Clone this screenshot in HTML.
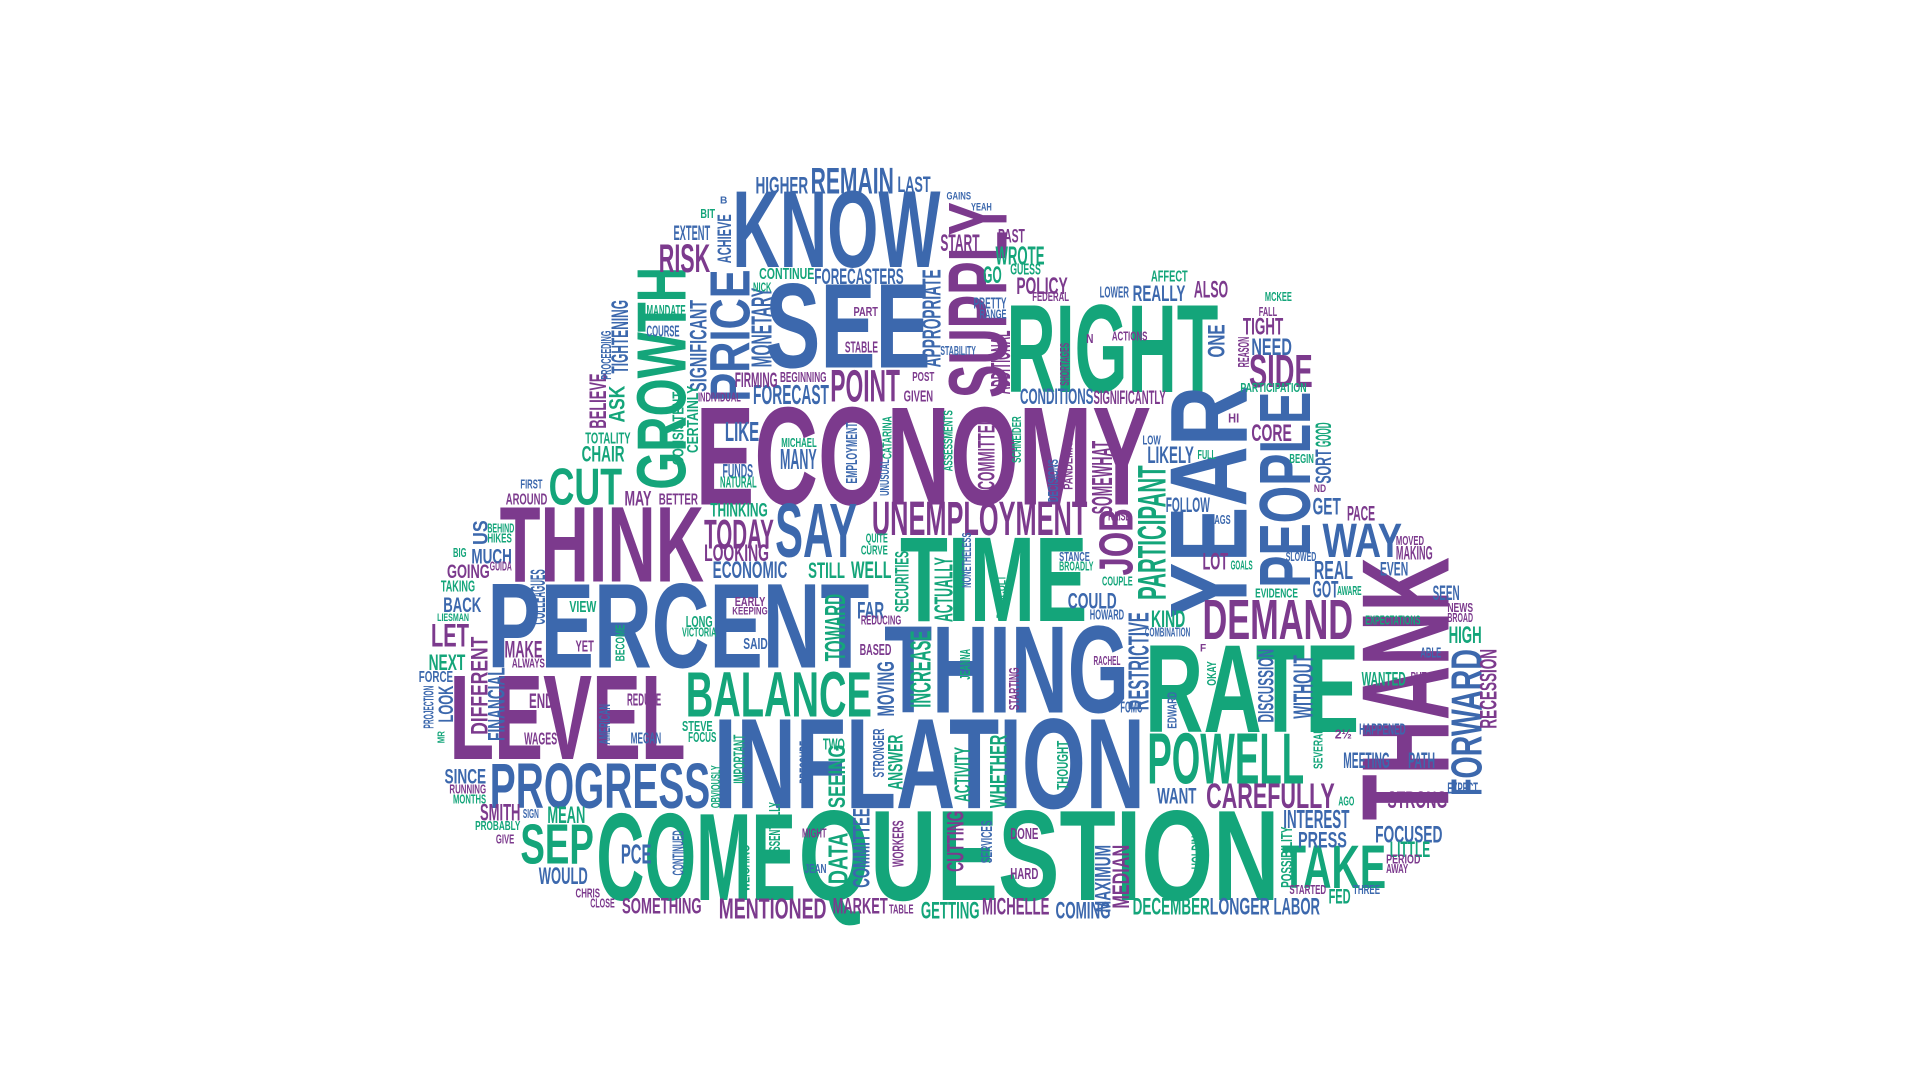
<!DOCTYPE html>
<html><head><meta charset="utf-8"><title>Word Cloud</title>
<style>
html,body{margin:0;padding:0;background:#fff;width:1920px;height:1080px;overflow:hidden}
svg{display:block}
text{font-family:"Liberation Sans Narrow","Liberation Sans",sans-serif;font-weight:bold}
</style></head>
<body>
<svg id="cloud" width="1920" height="1080" viewBox="0 0 1568 882" xmlns="http://www.w3.org/2000/svg"></svg>
<script>
// word, colour key, x1, y1, x2, y2, orientation (h = horizontal, v = vertical bottom-to-top)
const words = [
["ECONOMY","p",568,325,940,412,"h"],["INFLATION","b",583,580,935,660,"h"],["QUESTION","g",652,655,1045,735,"h"],
["COME","g",487,658,650,735,"h"],["PERCENT","b",398,470,710,545,"h"],["THING","b",722,505,922,582,"h"],
["TIME","g",735,432,888,507,"h"],["RATE","g",935,520,1110,598,"h"],["RIGHT","g",822,242,995,320,"h"],
["SEE","b",625,225,760,300,"h"],["KNOW","b",598,150,768,218,"h"],["LEVEL","p",367,545,560,620,"h"],
["THINK","p",408,408,575,475,"h"],["YEAR","b",950,315,1018,505,"v"],["THANK","p",1106,455,1183,670,"v"],
["GROWTH","g",517,218,560,400,"v"],["SUPPLY","p",770,165,822,325,"v"],["PEOPLE","b",1025,320,1070,480,"v"],
["PRICE","b",577,220,612,328,"v"],["POWELL","g",937,595,1065,640,"h"],["PROGRESS","b",400,620,580,660,"h"],
["BALANCE","g",560,545,712,585,"h"],["DEMAND","p",982,487,1105,522,"h"],["UNEMPLOYMENT","p",712,407,888,437,"h"],
["SAY","b",633,407,700,455,"h"],["CUT","g",448,380,508,412,"h"],["SEP","g",425,670,485,705,"h"],
["TAKE","g",1047,687,1132,725,"h"],["WAY","b",1080,425,1145,455,"h"],["POINT","p",678,300,735,328,"h"],
["REMAIN","b",662,135,730,158,"h"],["CAREFULLY","p",985,638,1090,660,"h"],["FORWARD","b",1183,530,1210,650,"v"],
["JOB","p",895,415,925,470,"v"],["PARTICIPANT","g",927,380,952,490,"v"],["RESTRICTIVE","b",920,500,938,580,"v"],
["TOWARD","g",672,485,690,540,"v"],["INCREASE","g",742,515,760,578,"v"],["ACTUALLY","g",762,455,778,508,"v"],
["APPROPRIATE","b",752,220,768,300,"v"],["MONETARY","b",612,235,630,300,"v"],["ADDITIONAL","p",808,270,825,322,"v"],
["SOMEWHAT","p",890,360,908,420,"v"],["DIFFERENT","p",383,520,398,600,"v"],["FINANCIAL","b",397,545,412,605,"v"],
["TIGHTENING","b",498,245,513,305,"v"],["SIGNIFICANT","b",562,245,577,320,"v"],["ASK","g",496,315,510,345,"v"],
["BELIEVE","p",480,305,495,350,"v"],["COLLEAGUES","b",432,465,445,510,"v"],["DISCUSSION","b",1026,530,1040,590,"v"],
["WITHOUT","b",1055,535,1072,587,"v"],["RECESSION","p",1207,530,1222,595,"v"],["WHETHER","g",807,600,822,660,"v"],
["ACTIVITY","g",778,610,792,655,"v"],["ANSWER","g",724,600,737,645,"v"],["MOVING","b",715,540,730,585,"v"],
["SEEING","g",675,608,690,660,"v"],["DATA","g",675,680,692,722,"v"],["COMMITTEE","b",695,660,710,725,"v"],
["MAXIMUM","b",893,690,907,745,"v"],["MEDIAN","p",907,690,922,742,"v"],["CUTTING","p",772,662,787,712,"v"],
["COMMITTED","p",797,340,812,400,"v"],["SECURITIES","g",730,450,742,500,"v"],["CONSISTENT","g",548,320,558,380,"v"],
["CERTAINLY","g",560,315,570,370,"v"],["EMPLOYMENT","b",690,345,700,395,"v"],["SCHNEIDER","g",826,340,834,378,"v"],
["PANDEMIC","p",868,360,876,400,"v"],["DECISIONS","b",855,375,864,410,"v"],["DIFFICULT","g",813,470,821,505,"v"],
["PROCEEDING","b",490,270,499,310,"v"],["OKAY","g",985,540,993,560,"v"],["THOUGHT","g",862,605,872,645,"v"],
["CONTINUED","b",548,678,558,715,"v"],["ESSENTIALLY","g",627,655,637,700,"v"],["IMPORTANT","g",598,600,608,640,"v"],
["HOLDINGS","g",972,672,982,710,"v"],["POSSIBILITY","g",1045,675,1055,725,"v"],["SEVERAL","g",1072,595,1080,628,"v"],
["TODAY","p",575,422,632,448,"h"],["LOOKING","p",575,443,628,458,"h"],["ECONOMIC","b",582,457,643,472,"h"],
["STILL","g",660,458,690,472,"h"],["WELL","g",695,457,728,472,"h"],["LIKE","b",592,343,620,360,"h"],
["MANY","b",637,365,667,383,"h"],["FUNDS","b",590,378,615,390,"h"],["NATURAL","g",588,388,618,398,"h"],
["FORECAST","b",615,313,677,330,"h"],["FORECASTERS","b",665,218,738,232,"h"],["FIRMING","p",600,303,635,316,"h"],
["HIGHER","b",617,143,660,158,"h"],["LAST","b",733,143,760,157,"h"],["RISK","p",538,197,580,222,"h"],
["ACHIEVE","b",585,175,597,215,"v"],["EXTENT","b",550,183,580,196,"h"],["START","p",768,190,800,205,"h"],
["PAST","p",815,186,837,198,"h"],["WROTE","g",813,200,853,216,"h"],["GO","g",803,216,818,231,"h"],
["GUESS","g",825,214,850,224,"h"],["POLICY","p",830,225,872,240,"h"],["REALLY","b",925,232,968,246,"h"],
["ALSO","p",975,228,1003,243,"h"],["AFFECT","g",940,220,970,230,"h"],["LOWER","b",898,233,922,243,"h"],
["TIGHT","p",1015,258,1048,273,"h"],["NEED","b",1022,275,1055,290,"h"],["SIDE","p",1020,287,1072,316,"h"],
["ONE","b",985,265,1000,292,"v"],["CONDITIONS","b",833,316,893,330,"h"],["SIGNIFICANTLY","p",893,318,952,330,"h"],
["CORE","p",1022,345,1055,360,"h"],["GOOD","g",1073,345,1087,365,"v"],["SORT","b",1073,367,1087,395,"v"],
["LIKELY","b",937,363,975,378,"h"],["FOLLOW","b",952,405,988,418,"h"],["GET","b",1072,405,1095,420,"h"],
["PACE","p",1100,412,1123,425,"h"],["LOT","p",982,450,1003,465,"h"],["REAL","b",1073,457,1105,473,"h"],
["GOT","b",1072,473,1093,488,"h"],["EVEN","b",1127,458,1150,470,"h"],["SEEN","b",1170,477,1192,490,"h"],
["HIGH","g",1183,510,1210,525,"h"],["COULD","b",872,483,912,497,"h"],["KIND","g",940,497,968,512,"h"],
["MEETING","b",1097,613,1135,627,"h"],["PATH","b",1150,613,1172,627,"h"],["STRONG","p",1133,645,1182,660,"h"],
["INTEREST","b",1048,660,1102,676,"h"],["PRESS","b",1060,678,1100,692,"h"],["FOCUSED","b",1123,673,1178,688,"h"],
["LITTLE","g",1135,686,1168,700,"h"],["LABOR","b",1040,732,1078,747,"h"],["LONGER","b",988,732,1037,747,"h"],
["DECEMBER","g",925,732,988,747,"h"],["COMING","b",862,735,907,750,"h"],["MICHELLE","p",802,732,857,747,"h"],
["GETTING","g",752,735,800,750,"h"],["MARKET","p",680,732,725,746,"h"],["MENTIONED","p",587,732,675,750,"h"],
["SOMETHING","p",508,732,573,746,"h"],["WOULD","b",440,707,480,722,"h"],["PCE","b",507,688,532,705,"h"],
["MEAN","g",447,657,478,672,"h"],["SMITH","p",392,655,425,670,"h"],["SINCE","b",363,627,397,640,"h"],
["LOOK","b",357,560,370,590,"v"],["PROJECTION","b",345,560,354,595,"v"],["NEXT","g",350,533,380,547,"h"],
["FORCE","b",342,547,370,557,"h"],["LET","p",352,508,383,528,"h"],["BACK","b",362,487,393,500,"h"],
["LIESMAN","g",357,500,383,507,"h"],["MAKE","p",412,522,443,537,"h"],["ALWAYS","p",418,537,445,545,"h"],
["END","p",432,565,452,578,"h"],["WAGES","p",428,597,455,608,"h"],["REDUCE","p",512,565,540,576,"h"],
["MEGAN","b",515,597,540,607,"h"],["AMERICAN","b",488,575,498,608,"v"],["FOCUS","g",562,597,585,606,"h"],
["STEVE","g",557,588,582,597,"h"],["MUCH","b",385,447,418,460,"h"],["GOING","p",365,460,400,472,"h"],
["TAKING","g",360,473,388,483,"h"],["US","b",385,425,398,445,"v"],["BEHIND","g",398,427,420,435,"h"],
["HIKES","g",398,435,418,443,"h"],["BIG","g",370,447,381,455,"h"],["GUIDA","p",400,458,418,466,"h"],
["AROUND","p",413,402,447,412,"h"],["FIRST","b",425,391,443,399,"h"],["MAY","p",510,400,532,413,"h"],
["BETTER","p",538,402,570,412,"h"],["THINKING","g",580,410,627,422,"h"],["CHAIR","g",475,363,510,377,"h"],
["TOTALITY","g",478,352,515,362,"h"],["MANDATE","g",528,248,560,258,"h"],["COURSE","b",528,265,555,275,"h"],
["VIEW","g",465,490,487,500,"h"],["YET","p",470,522,485,532,"h"],["BECOME","g",502,510,510,540,"v"],
["SAID","b",607,520,627,530,"h"],["LONG","g",560,502,582,512,"h"],["VICTORIA","g",557,512,585,520,"h"],
["EARLY","p",600,487,625,495,"h"],["KEEPING","p",598,495,627,502,"h"],["BASED","p",702,525,728,535,"h"],
["FAR","b",700,490,722,505,"h"],["REDUCING","p",703,502,736,510,"h"],["TWO","g",672,602,690,612,"h"],
["WANT","b",945,642,977,656,"h"],["FED","g",1085,725,1103,738,"h"],["DONE","p",825,675,848,685,"h"],
["HARD","p",825,708,848,718,"h"],["JEAN","b",657,705,675,713,"h"],["MIGHT","p",655,676,675,684,"h"],
["PROBABLY","g",388,670,425,678,"h"],["GIVE","p",405,681,420,689,"h"],["RUNNING","p",367,640,397,648,"h"],
["MONTHS","g",370,648,397,656,"h"],["SIGN","b",427,660,440,668,"h"],["CHRIS","p",470,725,490,733,"h"],
["CLOSE","p",482,733,502,741,"h"],["TABLE","p",726,738,746,746,"h"],["WORKERS","p",728,670,738,708,"v"],
["SERVICES","b",800,670,810,705,"v"],["STRONGER","b",712,595,722,635,"v"],["PRESSURE","b",652,605,662,640,"v"],
["OBVIOUSLY","g",580,625,588,660,"v"],["WEIGHING","g",603,690,612,728,"v"],["JEANNA","g",783,530,792,555,"v"],
["STARTING","p",823,545,832,580,"v"],["NONETHELESS","b",785,435,793,480,"v"],["CATARINA","g",720,340,728,375,"v"],
["UNUSUAL","b",718,375,726,405,"v"],["ASSESSMENTS","g",770,335,778,385,"v"],["EDWARD","b",953,565,961,595,"v"],
["RACHEL","p",893,535,915,543,"h"],["FOMC","b",915,572,933,582,"h"],["HOWARD","b",890,497,918,506,"h"],
["COMBINATION","b",935,512,972,520,"h"],["STANCE","b",865,450,890,458,"h"],["BROADLY","g",865,458,893,466,"h"],
["COUPLE","g",900,470,925,478,"h"],["RAISE","p",905,417,923,425,"h"],["LAGS","b",988,420,1005,428,"h"],
["GOALS","g",1005,457,1023,465,"h"],["EVIDENCE","g",1025,480,1060,488,"h"],["AWARE","g",1092,478,1112,486,"h"],
["SLOWED","b",1050,450,1075,458,"h"],["MOVED","p",1140,437,1163,445,"h"],["MAKING","p",1140,445,1170,457,"h"],
["EXPECTATIONS","g",1115,502,1160,510,"h"],["NEWS","p",1182,492,1203,500,"h"],["BROAD","p",1182,500,1203,508,"h"],
["ABLE","b",1160,528,1177,537,"h"],["WANTED","g",1112,548,1148,560,"h"],["PUT","p",1152,548,1165,556,"h"],
["HAPPENED","b",1110,590,1148,600,"h"],["EXPECT","b",1182,638,1207,648,"h"],["AGO","g",1093,650,1106,658,"h"],
["PERIOD","p",1132,697,1160,705,"h"],["AWAY","p",1132,705,1150,713,"h"],["STARTED","p",1053,722,1083,730,"h"],
["THREE","b",1105,722,1127,730,"h"],["PARTICIPATION","g",1013,312,1067,320,"h"],["REASON","p",1010,275,1020,300,"v"],
["FALL","p",1028,250,1043,258,"h"],["MCKEE","g",1033,238,1055,246,"h"],["ACTIONS","p",908,270,937,278,"h"],
["SHORTAGES","p",865,280,873,315,"v"],["FEDERAL","p",843,238,873,246,"h"],["PRETTY","b",795,242,822,252,"h"],
["RANGE","b",800,252,822,260,"h"],["STABILITY","b",768,282,797,290,"h"],["PART","p",697,250,717,258,"h"],
["STABLE","p",690,278,717,288,"h"],["POST","p",745,303,763,311,"h"],["GIVEN","p",738,318,762,328,"h"],
["BEGINNING","p",637,303,675,312,"h"],["INDIVIDUAL","p",570,320,605,328,"h"],["MICHAEL","g",638,357,667,365,"h"],
["CONTINUE","g",620,218,665,228,"h"],["NICK","g",615,230,630,238,"h"],["BIT","g",572,170,584,178,"h"],
["GAINS","b",773,156,793,163,"h"],["YEAH","b",793,165,810,172,"h"],["QUITE","g",707,435,725,443,"h"],
["CURVE","g",703,445,725,453,"h"],["LOW","b",933,355,948,363,"h"],["FULL","g",978,367,993,375,"h"],
["HI","p",1003,337,1012,345,"h"],["BEGIN","g",1053,370,1073,378,"h"],["ND","p",1073,395,1083,402,"h"],
["MR","g",357,597,363,607,"v"],["B","b",588,160,594,166,"h"],["N","p",887,272,893,280,"h"],["F","p",980,525,985,532,"h"],
["2½","p",1090,595,1104,603,"h"]
];
const colorKeys = ["p","b","g"];
const colorValues = ["#7c3a8d","#3c68ad","#14a57a"];

const svg = document.getElementById('cloud');
const NS = 'http://www.w3.org/2000/svg';
const CAP = 0.76;
words.forEach(function(w){
  const t = document.createElementNS(NS,'text');
  
  
  const col = colorValues[colorKeys.indexOf(w[1])];
  const x1=w[2], y1=w[3], x2=w[4], y2=w[5];
  let len, thick;
  if (w[6] === 'h') { len = x2-x1; thick = y2-y1;
    t.setAttribute('transform','translate('+x1+','+y2+')');
  } else { len = y2-y1; thick = x2-x1;
    t.setAttribute('transform','translate('+x2+','+y2+') rotate(-90)');
  }
  t.setAttribute('x','0'); t.setAttribute('y','0');
  t.setAttribute('font-size',(thick/CAP).toFixed(2));
  t.setAttribute('textLength',len);
  t.setAttribute('lengthAdjust','spacingAndGlyphs');
  t.setAttribute('fill',col);
  t.textContent = w[0];
  svg.appendChild(t);
});
</script>
</body></html>
